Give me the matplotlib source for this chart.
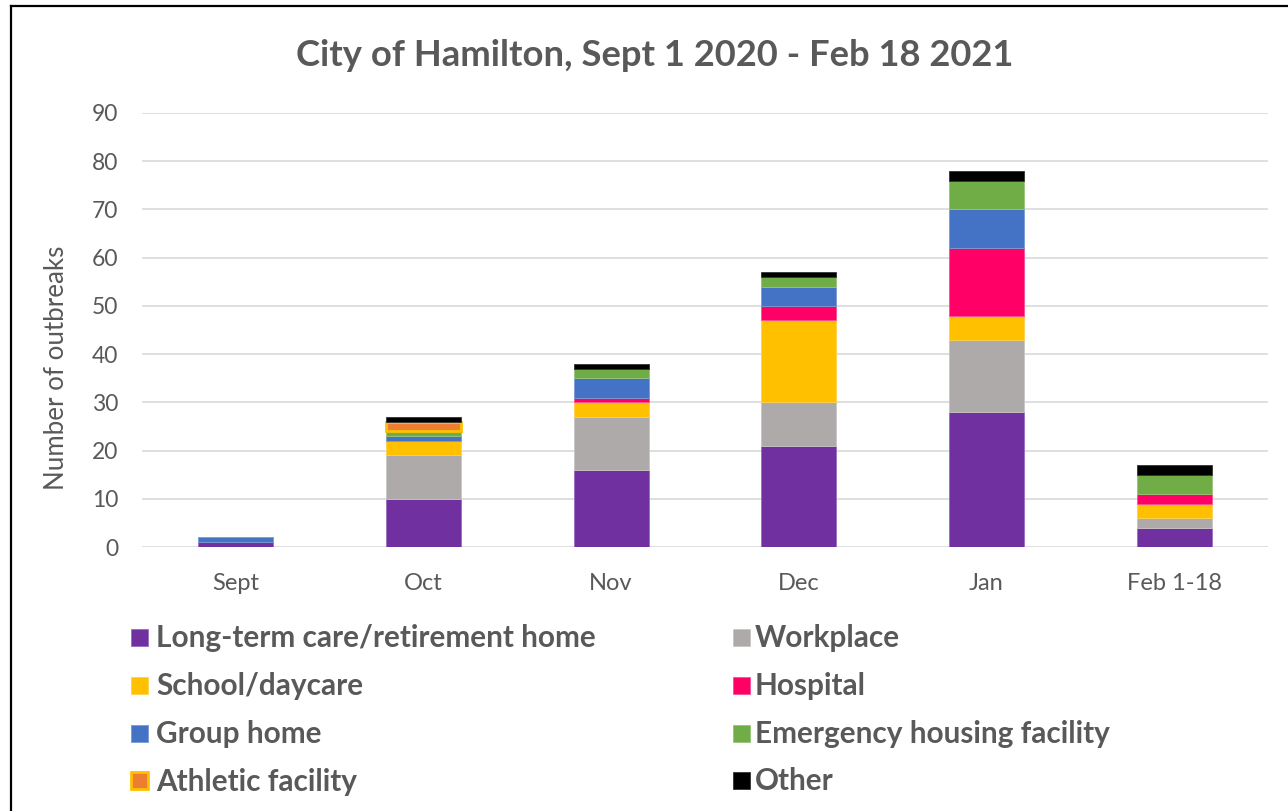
import matplotlib
matplotlib.use('Agg')
import matplotlib.pyplot as plt
from matplotlib.patches import Rectangle
from matplotlib.lines import Line2D
import numpy as np

months = ['Sept', 'Oct', 'Nov', 'Dec', 'Jan', 'Feb 1-18']
series_names = ['Long-term care/retirement home', 'Workplace', 'School/daycare', 'Hospital',
                'Group home', 'Emergency housing facility', 'Athletic facility', 'Other']
ltc = [1, 10, 16, 21, 28, 4]
workplace = [0, 9, 11, 9, 15, 2]
school = [0, 3, 3, 17, 5, 3]
hospital = [0, 0, 1, 3, 14, 2]
group_home = [1, 1, 4, 4, 8, 0]
emergency = [0, 1, 2, 2, 6, 4]
athletic = [0, 2, 0, 0, 0, 0]
other = [0, 1, 1, 1, 2, 2]
series = [ltc, workplace, school, hospital, group_home, emergency, athletic, other]
colors = ['#7030A0', '#AEAAAA', '#FFC000', '#FF0066', '#4472C4', '#70AD47', '#ED7D31', '#000000']
edgecolors = ['#9B6BC0', '#C8C5C5', '#FFD24D', '#FF4D94', '#7A9AD6', '#98C57A', '#FFC000', '#333333']
edgewidths = [0.6, 0.6, 0.6, 0.6, 0.6, 0.6, 2.0, 0.6]

W, H = 1288, 811
fig = plt.figure(figsize=(W / 100, H / 100), dpi=100)
fig.patch.set_facecolor('white')
FONT = 'Lato'
TXT = '#595959'

ax = fig.add_axes([142 / W, 1 - 547 / H, 1126 / W, 434 / H])
x = np.arange(len(months))
bottom = np.zeros(len(months))
for vals, c, ec, lw in zip(series, colors, edgecolors, edgewidths):
    v = np.array(vals, dtype=float)
    m = v > 0
    ax.bar(x[m], v[m], width=0.4, bottom=bottom[m], color=c, edgecolor=ec, linewidth=lw, zorder=3)
    bottom += v

ax.set_xlim(-0.5, len(months) - 0.5)
ax.set_ylim(0, 90)
ax.set_yticks(np.arange(0, 91, 10))
ax.yaxis.grid(True, color='#D9D9D9', linewidth=1.2, zorder=0)
ax.set_axisbelow(True)
for s in ax.spines.values():
    s.set_visible(False)
ax.set_xticks(x)
ax.set_xticklabels(months, fontfamily=FONT, fontsize=17, color=TXT)
for lab in ax.get_yticklabels():
    lab.set_fontfamily(FONT)
    lab.set_fontsize(16.5)
    lab.set_color(TXT)
ax.tick_params(axis='both', length=0)
ax.tick_params(axis='y', pad=17)
ax.tick_params(axis='x', pad=18.5)

fig.text(57 / W, 1 - 368 / H, 'Number of outbreaks', rotation=90, ha='center', va='center',
         fontfamily=FONT, fontsize=18.6, color=TXT)

fig.text(655 / W, 1 - 56 / H, 'City of Hamilton, Sept 1 2020 - Feb 18 2021', ha='center', va='center',
         fontfamily=FONT, fontweight='bold', fontsize=26.2, color=TXT)

# legend (manual, two columns)
row_y = [637, 685, 733, 780]
col_marker_x = [131, 733]
col_text_x = [156, 755]
sq = 17
for i, (name, c, ec) in enumerate(zip(series_names, colors, edgecolors)):
    col = i % 2
    row = i // 2
    mx = col_marker_x[col]
    my = row_y[row]
    if name == 'Athletic facility':
        rect = Rectangle((mx / W, 1 - (my + sq / 2) / H), sq / W, sq / H, transform=fig.transFigure,
                         facecolor=c, edgecolor='#FFC000', linewidth=2.0)
    else:
        rect = Rectangle((mx / W, 1 - (my + sq / 2) / H), sq / W, sq / H, transform=fig.transFigure,
                         facecolor=c, edgecolor=ec, linewidth=0.6)
    fig.add_artist(rect)
    fig.text(col_text_x[col] / W, 1 - (my + 1.5) / H, name, ha='left', va='center', fontfamily=FONT,
             fontweight='bold', fontsize=21.4, color=TXT)

# frame lines (top and left)
fig.add_artist(Line2D([11 / W, 11 / W], [0, 1 - 5.5 / H], transform=fig.transFigure, color='black', lw=1.6))
fig.add_artist(Line2D([11 / W, 1], [1 - 5.5 / H, 1 - 5.5 / H], transform=fig.transFigure, color='black', lw=1.6))

fig.savefig('out.png', dpi=100)
